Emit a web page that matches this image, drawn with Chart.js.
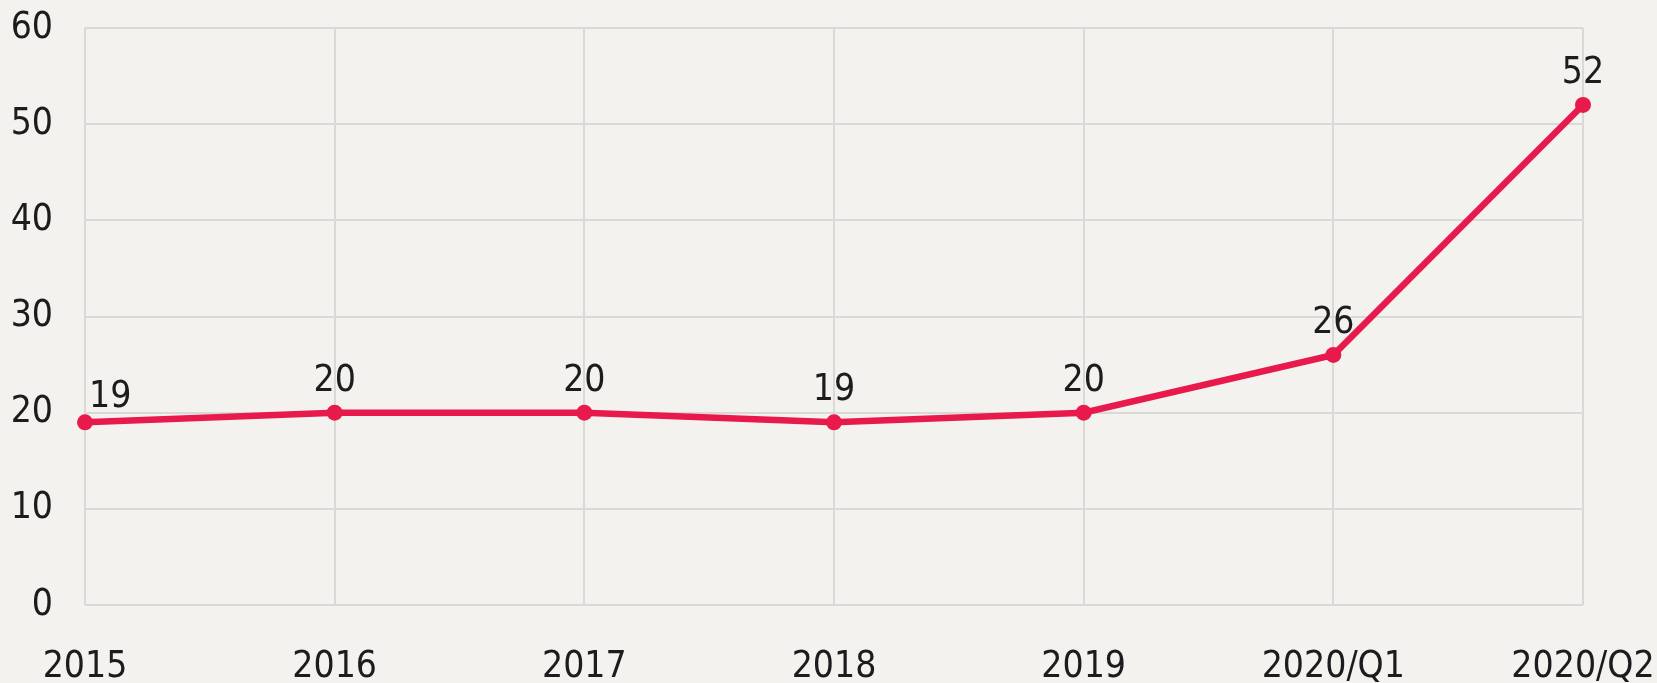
<!DOCTYPE html>
<html>
<head>
<meta charset="utf-8">
<script src="https://cdn.jsdelivr.net/npm/chart.js@4/dist/chart.umd.min.js"></script>
<style>
  html, body { margin: 0; padding: 0; background: #f3f2ee; }
  #wrap { width: 1657px; height: 683px; }
</style>
</head>
<body>
<div id="wrap"><canvas id="c" width="1657" height="683"></canvas></div>
<script>
const categories = ["2015", "2016", "2017", "2018", "2019", "2020/Q1", "2020/Q2"];
const values = [19, 20, 20, 19, 20, 26, 52];
const yTicks = [0, 10, 20, 30, 40, 50, 60];

const FONT = '"DejaVu Sans Condensed", "DejaVu Sans", sans-serif';
const TEXT = '#1c1c1e';
const RED = '#e8194b';
const GRID = '#d9d9d7';

const valueLabels = {
  id: 'valueLabels',
  afterDatasetsDraw(chart) {
    const ctx = chart.ctx;
    const meta = chart.getDatasetMeta(0);
    ctx.save();
    ctx.font = '37px ' + FONT;
    ctx.fillStyle = TEXT;
    ctx.textBaseline = 'alphabetic';
    meta.data.forEach((pt, i) => {
      const v = chart.data.datasets[0].data[i];
      if (i === 0) {
        ctx.textAlign = 'left';
        ctx.fillText(String(v), pt.x + 4, pt.y - 15);
      } else {
        ctx.textAlign = 'center';
        ctx.fillText(String(v), pt.x, pt.y - 22);
      }
    });
    ctx.restore();
  }
};

new Chart(document.getElementById('c'), {
  type: 'line',
  data: {
    labels: categories,
    datasets: [{
      data: values,
      borderColor: RED,
      backgroundColor: RED,
      borderWidth: 6.5,
      tension: 0,
      pointRadius: 8,
      pointHoverRadius: 8,
      pointBorderWidth: 0,
      pointBackgroundColor: RED,
      fill: false
    }]
  },
  options: {
    responsive: false,
    animation: false,
    events: [],
    layout: { padding: { top: 28, right: 74, bottom: 0, left: 0 } },
    plugins: {
      legend: { display: false },
      tooltip: { enabled: false }
    },
    scales: {
      x: {
        offset: false,
        grid: { color: GRID, lineWidth: 2, drawTicks: false },
        border: { display: false },
        ticks: {
          color: TEXT,
          font: { family: FONT, size: 37 },
          padding: 40,
          maxRotation: 0,
          autoSkip: false
        },
        afterFit(scale) {
          scale.height = 78;
          scale.paddingLeft = 0; scale.paddingRight = 0;
          scale.paddingTop = 0; scale.paddingBottom = 0;
        }
      },
      y: {
        min: 0,
        max: 60,
        afterBuildTicks(scale) { scale.ticks = yTicks.map(v => ({ value: v })); },
        grid: { color: GRID, lineWidth: 2, drawTicks: false },
        border: { display: false },
        ticks: {
          color: TEXT,
          font: { family: FONT, size: 37 },
          padding: 32
        },
        afterFit(scale) {
          scale.width = 85;
          scale.paddingLeft = 0; scale.paddingRight = 0;
          scale.paddingTop = 0; scale.paddingBottom = 0;
        }
      }
    }
  },
  plugins: [valueLabels]
});
</script>
</body>
</html>
